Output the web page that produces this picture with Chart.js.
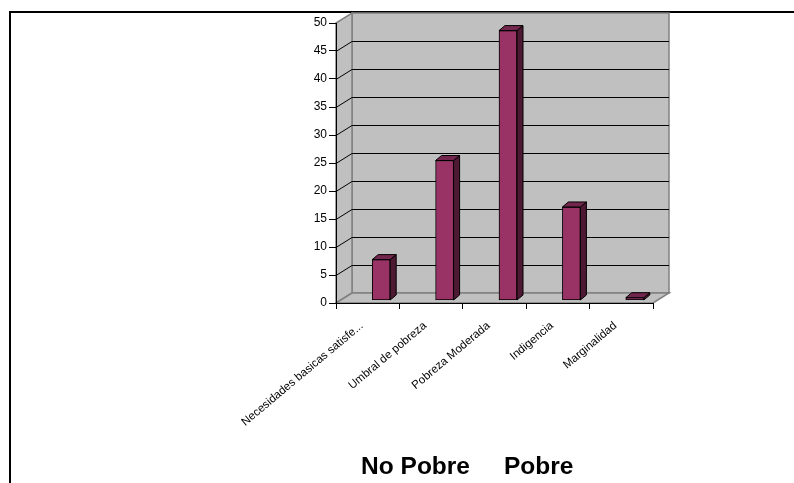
<!DOCTYPE html>
<html>
<head>
<meta charset="utf-8">
<script src="https://cdn.jsdelivr.net/npm/chart.js@4"></script>
<style>
  html, body { margin: 0; padding: 0; background: #fff; }
  #wrap { position: relative; width: 794px; height: 483px; overflow: hidden; }
  #frame { position: absolute; left: 9px; top: 11px; right: -10px; bottom: -10px;
           border-left: 2px solid #000; border-top: 2px solid #000; }
  #chart { position: absolute; left: 0; top: 0; }
</style>
</head>
<body>
<div id="wrap">
  <div id="frame"></div>
  <canvas id="chart" width="794" height="483"></canvas>
</div>
<script>
// data
const categories = ['Necesidades basicas satisfechas', 'Umbral de pobreza', 'Pobreza Moderada', 'Indigencia', 'Marginalidad'];
const values = [7.3, 25, 48.2, 16.7, 0.5];
const yTicks = [0, 5, 10, 15, 20, 25, 30, 35, 40, 45, 50];
const axisTitle = 'No Pobre     Pobre';

// 3d look
const wallDX = 16, wallDY = 10;
const barDX = 6, barDY = 5;
const barShiftX = 13.5, barShiftY = -2.5;
const FONT = "'Liberation Sans', Arial, sans-serif";

const threeD = {
  id: 'threeD',
  beforeDraw(chart) {
    const ctx = chart.ctx;
    const a = chart.chartArea;
    const y = chart.scales.y;
    const top = y.getPixelForValue(yTicks[yTicks.length - 1]);
    const bot = y.getPixelForValue(0);
    ctx.save();
    ctx.fillStyle = '#c0c0c0';
    ctx.strokeStyle = '#808080';
    ctx.lineWidth = 1.5;
    // back wall
    ctx.beginPath();
    ctx.rect(a.left + wallDX, top - wallDY, a.right - a.left, bot - top);
    ctx.fill(); ctx.stroke();
    // side wall
    ctx.beginPath();
    ctx.moveTo(a.left, bot);
    ctx.lineTo(a.left, top);
    ctx.lineTo(a.left + wallDX, top - wallDY);
    ctx.lineTo(a.left + wallDX, bot - wallDY);
    ctx.closePath();
    ctx.fill(); ctx.stroke();
    // floor
    ctx.beginPath();
    ctx.moveTo(a.left, bot);
    ctx.lineTo(a.right, bot);
    ctx.lineTo(a.right + wallDX, bot - wallDY);
    ctx.lineTo(a.left + wallDX, bot - wallDY);
    ctx.closePath();
    ctx.fill(); ctx.stroke();
    // grid lines
    ctx.strokeStyle = '#000';
    ctx.lineWidth = 1;
    yTicks.slice(1, -1).forEach(v => {
      const py = Math.round(y.getPixelForValue(v)) + 0.5;
      ctx.beginPath();
      ctx.moveTo(a.left, py);
      ctx.lineTo(a.left + wallDX, py - wallDY);
      ctx.lineTo(a.right + wallDX, py - wallDY);
      ctx.stroke();
    });
    ctx.restore();
  },
  beforeDatasetsDraw(chart) {
    chart.ctx.save();
    chart.ctx.translate(barShiftX, barShiftY);
  },
  afterDatasetsDraw(chart) {
    const ctx = chart.ctx;
    ctx.strokeStyle = '#000';
    ctx.lineWidth = 1;
    chart.getDatasetMeta(0).data.forEach(bar => {
      const l = bar.x - bar.width / 2, r = bar.x + bar.width / 2;
      const t = bar.y, b = bar.base;
      // side
      ctx.fillStyle = '#4d1933';
      ctx.beginPath();
      ctx.moveTo(r, t);
      ctx.lineTo(r + barDX, t - barDY);
      ctx.lineTo(r + barDX, b - barDY);
      ctx.lineTo(r, b);
      ctx.closePath();
      ctx.fill(); ctx.stroke();
      // top
      ctx.fillStyle = '#73264d';
      ctx.beginPath();
      ctx.moveTo(l, t);
      ctx.lineTo(l + barDX, t - barDY);
      ctx.lineTo(r + barDX, t - barDY);
      ctx.lineTo(r, t);
      ctx.closePath();
      ctx.fill(); ctx.stroke();
    });
    ctx.restore();
  }
};

new Chart(document.getElementById('chart'), {
  type: 'bar',
  data: {
    labels: categories,
    datasets: [{
      data: values,
      backgroundColor: '#993366',
      borderColor: '#000',
      borderWidth: 1,
      borderSkipped: false,
      barThickness: 18
    }]
  },
  options: {
    responsive: false,
    devicePixelRatio: 1,
    animation: false,
    events: [],
    layout: { padding: { left: 286, right: 141, top: 23, bottom: 0 } },
    plugins: { legend: { display: false }, tooltip: { enabled: false } },
    scales: {
      x: {
        grid: { drawOnChartArea: false, drawTicks: true, tickLength: 6, color: '#000', offset: true },
        border: { color: '#000', width: 1 },
        ticks: {
          autoSkip: false,
          minRotation: 40,
          maxRotation: 40,
          padding: 10,
          labelOffset: -6,
          color: '#000',
          font: { family: FONT, size: 11.5 },
          callback: function(v) {
            const s = this.getLabelForValue(v);
            return s.length > 27 ? s.slice(0, 27) + '...' : s;
          }
        },
        title: {
          display: true,
          text: axisTitle + '        ',
          color: '#000',
          font: { family: FONT, size: 24.5, weight: 'bold' },
          padding: { top: 0, bottom: 1 }
        },
        afterFit(s) { s.height = 180; s.paddingLeft = 0; s.paddingRight = 0; }
      },
      y: {
        min: 0,
        max: 50,
        grid: { drawOnChartArea: false, drawTicks: true, tickLength: 7, color: '#000' },
        border: { color: '#000', width: 1 },
        ticks: {
          stepSize: 5,
          padding: 2,
          color: '#000',
          font: { family: FONT, size: 12 }
        },
        afterFit(s) { s.width = 50; }
      }
    }
  },
  plugins: [threeD]
});
</script>
</body>
</html>
